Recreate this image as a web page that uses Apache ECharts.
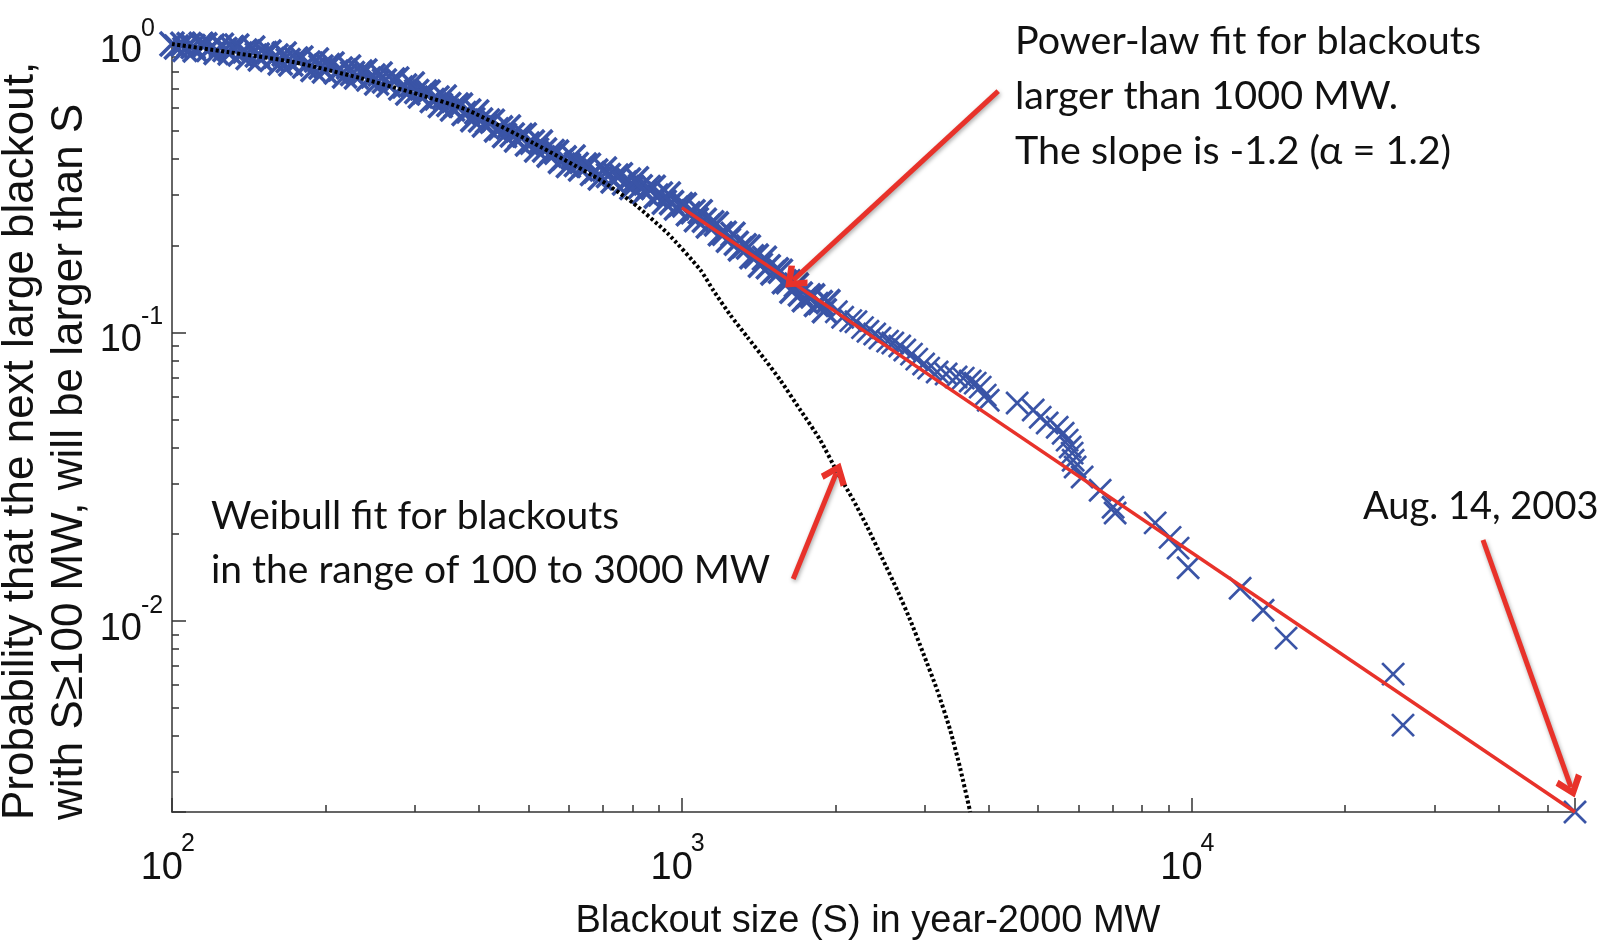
<!DOCTYPE html>
<html>
<head>
<meta charset="utf-8">
<script src="https://cdn.jsdelivr.net/npm/echarts@6/dist/echarts.min.js"></script>
<style>
html,body{margin:0;padding:0;background:#fff;}
#c{width:1604px;height:944px;}
</style>
</head>
<body>
<div id="c"></div>
<script>
// ---------------- data ----------------
const bandSizes = [100, 102, 105, 106, 108, 110, 111, 114, 116, 118, 120, 122, 125, 127, 130, 131, 134, 136, 139, 141,
  144, 147, 149, 152, 155, 157, 160, 163, 166, 169, 171, 175, 179, 182, 185, 189, 192, 196, 199, 202,
  206, 210, 214, 218, 222, 226, 230, 234, 239, 243, 248, 252, 256, 261, 266, 271, 276, 281, 286, 290,
  296, 302, 307, 313, 318, 324, 331, 336, 342, 349, 355, 361, 368, 374, 382, 389, 396, 403, 410, 416,
  425, 433, 441, 449, 457, 465, 474, 482, 491, 498, 509, 519, 528, 538, 549, 557, 568, 578, 588, 599,
  612, 621, 633, 644, 656, 668, 678, 692, 705, 718, 733, 744, 758, 772, 786, 798, 815, 829, 845, 860,
  879, 891, 908, 924, 941, 955, 976, 994, 1012, 1030, 1052, 1068, 1087, 1107, 1127, 1145, 1169, 1190, 1212, 1234,
  1260, 1279, 1303, 1326, 1351, 1372, 1400, 1426, 1452, 1478, 1509, 1533, 1561, 1589, 1618, 1644, 1678, 1708, 1739, 1771,
  1806, 1836, 1870, 1904, 1935];
const bandProbs = [1.0, 0.976, 0.998, 0.957, 0.995, 0.980, 0.953, 0.997, 0.993, 0.957, 0.984, 0.934, 0.990, 0.957, 0.931, 0.972, 0.984, 0.923, 0.946, 0.898,
  0.969, 0.916, 0.887, 0.927, 0.938, 0.884, 0.909, 0.859, 0.923, 0.877, 0.853, 0.887, 0.894, 0.839, 0.859, 0.816, 0.880, 0.832, 0.806, 0.842,
  0.853, 0.800, 0.819, 0.775, 0.832, 0.790, 0.769, 0.800, 0.806, 0.756, 0.775, 0.733, 0.787, 0.744, 0.721, 0.750, 0.756, 0.704, 0.715, 0.676,
  0.727, 0.685, 0.660, 0.682, 0.681, 0.637, 0.650, 0.612, 0.655, 0.617, 0.595, 0.615, 0.614, 0.574, 0.586, 0.547, 0.581, 0.545, 0.524, 0.541,
  0.540, 0.504, 0.512, 0.482, 0.516, 0.484, 0.465, 0.482, 0.484, 0.450, 0.457, 0.429, 0.457, 0.429, 0.412, 0.424, 0.422, 0.392, 0.403, 0.379,
  0.406, 0.382, 0.369, 0.381, 0.380, 0.356, 0.363, 0.343, 0.369, 0.350, 0.335, 0.349, 0.352, 0.330, 0.338, 0.318, 0.341, 0.320, 0.307, 0.318,
  0.319, 0.297, 0.302, 0.283, 0.302, 0.282, 0.270, 0.278, 0.277, 0.258, 0.262, 0.246, 0.262, 0.245, 0.234, 0.240, 0.238, 0.220, 0.221, 0.209,
  0.219, 0.204, 0.195, 0.200, 0.198, 0.183, 0.184, 0.171, 0.181, 0.169, 0.161, 0.165, 0.163, 0.150, 0.150, 0.139, 0.146, 0.136, 0.130, 0.134,
  0.134, 0.125, 0.127, 0.119, 0.128];
const tailSizes = [2010, 2068, 2145, 2196, 2262, 2318, 2390, 2447, 2533, 2594, 2676, 2738, 2822, 2890, 2981, 3050, 3169, 3300, 3452, 3565,
  3679, 3763, 3849, 3937, 3991, 4548, 4890, 5047, 5209, 5450, 5598, 5700, 5778, 5830, 5856, 5909, 6099, 6616, 7015, 7079,
  8482, 9073, 9408, 9843, 12450, 13810, 15320, 24850, 25980, 56500];
const tailProbs = [0.118, 0.113, 0.110, 0.109, 0.104, 0.101, 0.0988, 0.0957, 0.0934, 0.0920, 0.0898, 0.0870, 0.0842, 0.0809, 0.0778, 0.0753, 0.0730, 0.0718, 0.0701, 0.0695,
  0.0679, 0.0668, 0.0647, 0.0607, 0.0583, 0.0570, 0.0539, 0.0509, 0.0486, 0.0470, 0.0448, 0.0424, 0.0401, 0.0382, 0.0361, 0.0342, 0.0316, 0.0284, 0.0248, 0.0237,
  0.0219, 0.0195, 0.0179, 0.0153, 0.0130, 0.0109, 0.00873, 0.00655, 0.00436, 0.00218];

const weibullSizes = [100, 128.5, 173, 234, 307, 380, 511, 692, 803, 937, 1087, 1153, 1245, 1344, 1458, 1560, 1708, 1869, 2018, 2169,
  2311, 2473, 2646, 2805, 2975, 3170, 3361, 3516, 3679];
const weibullProbs = [1.0, 0.938, 0.866, 0.762, 0.666, 0.590, 0.454, 0.338, 0.281, 0.221, 0.165, 0.140, 0.115, 0.0965, 0.0803, 0.0684, 0.0539, 0.0424, 0.0328, 0.0263,
  0.0212, 0.0165, 0.0128, 0.0101, 0.00774, 0.00576, 0.00419, 0.00309, 0.00218];

const powerLawSizes = [1000, 56500];
const powerLawProbs = [0.271, 0.00218];

const arrowTails = [[4175, 0.687], [1654, 0.0140], [37290, 0.0191]];
const arrowTips  = [[1654, 0.152], [2009, 0.0326], [55480, 0.00266]];

const xMin = 100, xMax = 56500, yMin = 0.00218, yMax = 1;
const xTickValues = [100, 1000, 10000];
const xTickExps = ['2', '3', '4'];
const yTickValues = [1, 0.1, 0.01];
const yTickExps = ['0', '-1', '-2'];

const xTitle = 'Blackout size (S) in year-2000 MW';
const yTitleLines = ['Probability that the next large blackout,', 'with S\u2265100 MW, will be larger than S'];
const powerLawNote = ['Power-law fit for blackouts', 'larger than 1000 MW.', 'The slope is -1.2 (\u03b1 = 1.2)'];
const weibullNote = ['Weibull fit for blackouts', 'in the range of 100 to 3000 MW'];
const eventNote = 'Aug. 14, 2003';

// ---------------- chart ----------------
const BLUE = '#3a54a6', RED = '#e8322a', AXIS = '#333', INK = '#111';
const NARROW = "'Liberation Sans Narrow', 'Liberation Sans', Arial, sans-serif";
const SANS = "'Liberation Sans', Arial, sans-serif";
const NOTE = "Lato, 'Open Sans', sans-serif";
const xMarker = 'path://M0,0L10,10M10,0L0,10';
const chevron = 'path://M50,0L100,70L83,88L50,40L17,88L0,70Z';

const chart = echarts.init(document.getElementById('c'), null, {renderer: 'canvas'});
const axisCommon = {
  type: 'log', logBase: 10,
  splitLine: {show: false},
  axisLine: {show: true, onZero: false, lineStyle: {color: AXIS, width: 1.5}},
  axisTick: {show: true, inside: true, length: 14, lineStyle: {color: AXIS, width: 1.5}},
  minorTick: {show: true, splitNumber: 9, length: 7, lineStyle: {color: AXIS, width: 1.5}},
  axisLabel: {show: false}
};
chart.setOption({
  animation: false,
  backgroundColor: '#fff',
  grid: {left: 172, right: 29, top: 44, bottom: 132},
  xAxis: Object.assign({min: xMin, max: xMax}, axisCommon),
  yAxis: Object.assign({min: yMin, max: yMax}, axisCommon),
  series: [
    {
      type: 'scatter', data: bandSizes.map((s, i) => [s, bandProbs[i]]), symbol: xMarker, symbolSize: 24, clip: false, z: 2,
      itemStyle: {color: BLUE, borderColor: BLUE, borderWidth: 3.6, opacity: 1},
      emphasis: {disabled: true}
    },
    {
      type: 'scatter', data: tailSizes.map((s, i) => [s, tailProbs[i]]), symbol: xMarker, symbolSize: 22, clip: false, z: 2,
      itemStyle: {color: BLUE, borderColor: BLUE, borderWidth: 2.7, opacity: 1},
      emphasis: {disabled: true}
    },
    {
      type: 'line', data: weibullSizes.map((s, i) => [s, weibullProbs[i]]), symbol: 'none', smooth: 0.2, z: 3,
      lineStyle: {color: '#000', width: 4, type: [3, 2.5]}
    },
    {
      type: 'line', data: powerLawSizes.map((s, i) => [s, powerLawProbs[i]]), symbol: 'none', z: 4,
      lineStyle: {color: RED, width: 3.5},
      markLine: {
        silent: true, symbol: ['none', chevron], symbolSize: [28, 22], precision: 6,
        label: {show: false},
        lineStyle: {color: RED, width: 5, type: 'solid', shadowColor: 'rgba(0,0,0,0.35)', shadowBlur: 4, shadowOffsetX: 1, shadowOffsetY: 2},
        emphasis: {disabled: true},
        data: arrowTails.map((t, i) => [{coord: t}, {coord: arrowTips[i]}])
      }
    }
  ]
});

// tick labels (10 with superscript exponent) placed at the axis' own tick positions
const BASE_FONT = '38px ' + NARROW, SUP_FONT = '25px ' + NARROW;
const els = [];
const xAxisY = chart.convertToPixel({yAxisIndex: 0}, yMin);
const yAxisX = chart.convertToPixel({xAxisIndex: 0}, xMin);
xTickValues.forEach((v, i) => {
  const px = chart.convertToPixel({xAxisIndex: 0}, v);
  els.push({type: 'text', x: px + 11, y: xAxisY + 57, style: {text: '10', font: BASE_FONT, fill: INK, align: 'right', verticalAlign: 'middle'}});
  els.push({type: 'text', x: px + 9, y: xAxisY + 32, style: {text: xTickExps[i], font: SUP_FONT, fill: INK, align: 'left', verticalAlign: 'middle'}});
});
yTickValues.forEach((v, i) => {
  const py = chart.convertToPixel({yAxisIndex: 0}, v);
  els.push({type: 'text', x: yAxisX - 30, y: py + 8, style: {text: '10', font: BASE_FONT, fill: INK, align: 'right', verticalAlign: 'middle'}});
  els.push({type: 'text', x: yAxisX - 31, y: py - 15, style: {text: yTickExps[i], font: SUP_FONT, fill: INK, align: 'left', verticalAlign: 'middle'}});
});
// titles and notes
els.push(
  {type: 'text', x: 21, y: 820, rotation: Math.PI / 2, style: {text: yTitleLines[0], font: '44px ' + SANS, fill: INK, align: 'left', verticalAlign: 'middle'}},
  {type: 'text', x: 70, y: 820, rotation: Math.PI / 2, style: {text: yTitleLines[1], font: '44px ' + SANS, fill: INK, align: 'left', verticalAlign: 'middle'}},
  {type: 'text', x: 868, y: 922, style: {text: xTitle, font: '38px ' + SANS, fill: INK, align: 'center', verticalAlign: 'middle'}},
  {type: 'text', x: 1015, y: 14, style: {text: powerLawNote.join('\n'), font: '39.5px ' + NOTE, lineHeight: 55, fill: INK, align: 'left', verticalAlign: 'top'}},
  {type: 'text', x: 211, y: 489, style: {text: weibullNote.join('\n'), font: '39px ' + NOTE, lineHeight: 54, fill: INK, align: 'left', verticalAlign: 'top'}},
  {type: 'text', x: 1363, y: 507, style: {text: eventNote, font: '38px ' + NOTE, fill: INK, align: 'left', verticalAlign: 'middle'}}
);
chart.setOption({graphic: {elements: els}});
</script>
</body>
</html>
